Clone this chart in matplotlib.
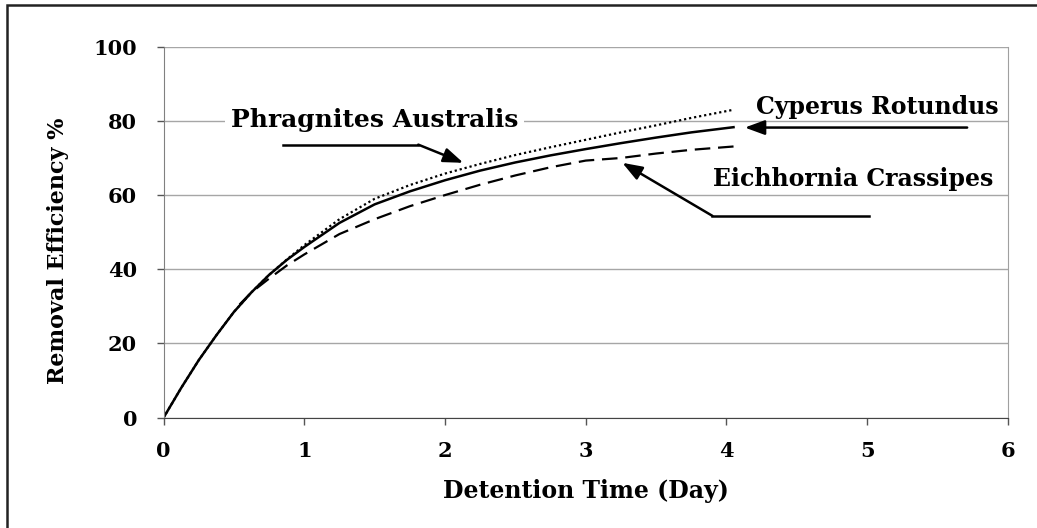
import matplotlib
matplotlib.use("Agg")
import matplotlib.pyplot as plt
from matplotlib.patches import Rectangle

plt.rcParams['font.family'] = ['DejaVu Serif']
plt.rcParams['font.weight'] = 'bold'

# detention time (day) and removal efficiency (%)
days = [0, 0.125, 0.25, 0.375, 0.5, 0.625, 0.75, 0.875, 1.0, 1.25, 1.5, 1.75,
        2.0, 2.25, 2.5, 2.75, 3.0, 3.25, 3.5, 3.75, 4.05]
cyperus = [0, 8.0, 15.5, 22.2, 28.5, 33.8, 38.5, 42.5, 46, 52.5, 57.5, 61,
           64, 66.6, 68.8, 70.7, 72.4, 74.0, 75.5, 76.9, 78.3]
phragnites = [0, 8.0, 15.5, 22.2, 28.5, 33.8, 38.5, 42.6, 46.5, 53.5, 59, 62.7,
              65.8, 68.4, 70.8, 72.9, 74.9, 76.9, 78.8, 80.8, 83]

days_eich = [0.54, 0.625, 0.75, 0.875, 1.0, 1.25, 1.5, 1.75, 2.0, 2.25, 2.5,
             2.75, 3.0, 3.25, 3.5, 3.75, 4.05]
eichhornia = [30.5, 33.8, 37.5, 41, 44, 49.5, 53.5, 57, 60, 62.8, 65.3,
              67.5, 69.3, 70, 71.2, 72.2, 73.1]

xticks = [0, 1, 2, 3, 4, 5, 6]
yticks = [0, 20, 40, 60, 80, 100]

fig = plt.figure(figsize=(10.37, 5.28), dpi=100)
ax = fig.add_axes([0.1577, 0.2089, 0.8143, 0.7027])

# curves
ax.plot(days, phragnites, color='black', lw=1.6, ls=(0, (1, 1.3)))
ax.plot(days, cyperus, color='black', lw=1.8)
ax.plot(days_eich, eichhornia, color='black', lw=1.6, ls=(0, (7, 3.5)))

ax.set_xlim(0, 6)
ax.set_ylim(0, 100)
ax.set_xticks(xticks)
ax.set_yticks(yticks)
ax.yaxis.grid(True, color='#a6a6a6', lw=1)
ax.set_axisbelow(True)
ax.tick_params(axis='both', direction='out', length=5, width=1, colors='#555555',
               labelcolor='black', labelsize=15)
ax.tick_params(axis='x', pad=12)
ax.tick_params(axis='y', pad=14)
for lab in ax.get_xticklabels() + ax.get_yticklabels():
    lab.set_fontweight('bold')

ax.spines['top'].set_visible(False)
ax.spines['left'].set_color('#808080')
ax.spines['right'].set_color('#a0a0a0')
ax.spines['bottom'].set_color('#444444')

ax.set_xlabel('Detention Time (Day)', fontsize=17, fontweight='bold', labelpad=13)
fig.text(0.056, 0.525, 'Removal Efficiency %', rotation=90, fontsize=16,
         fontweight='bold', ha='center', va='center')

arrow = dict(arrowstyle='-|>,head_length=0.6,head_width=0.22', color='black',
             lw=1.8, mutation_scale=20, shrinkA=0, shrinkB=0)

# Phragnites Australis
ax.text(1.50, 80.3, 'Phragnites Australis', fontsize=18, fontweight='bold',
        ha='center', va='center',
        bbox=dict(facecolor='white', edgecolor='none', pad=4))
ax.plot([0.85, 1.81], [73.6, 73.6], color='black', lw=1.8)
ax.annotate('', xy=(2.13, 68.7), xytext=(1.81, 73.6), arrowprops=arrow)

# Cyperus Rotundus
ax.text(5.07, 83.8, 'Cyperus Rotundus', fontsize=17, fontweight='bold',
        ha='center', va='center')
ax.annotate('', xy=(4.13, 78.2), xytext=(5.71, 78.2), arrowprops=arrow)

# Eichhornia Crassipes
ax.text(4.90, 64.4, 'Eichhornia Crassipes', fontsize=17, fontweight='bold',
        ha='center', va='center')
ax.plot([3.90, 5.01], [54.4, 54.4], color='black', lw=1.8)
ax.annotate('', xy=(3.26, 68.7), xytext=(3.90, 54.4), arrowprops=arrow)

# outer frame (right and bottom edges fall outside the image)
fig.patches.append(Rectangle((7 / 1037, -0.1), 1.2, 1.1 - 5 / 528, transform=fig.transFigure,
                             fill=False, edgecolor='#222222', lw=1.8))

fig.savefig('out.png', dpi=100)
